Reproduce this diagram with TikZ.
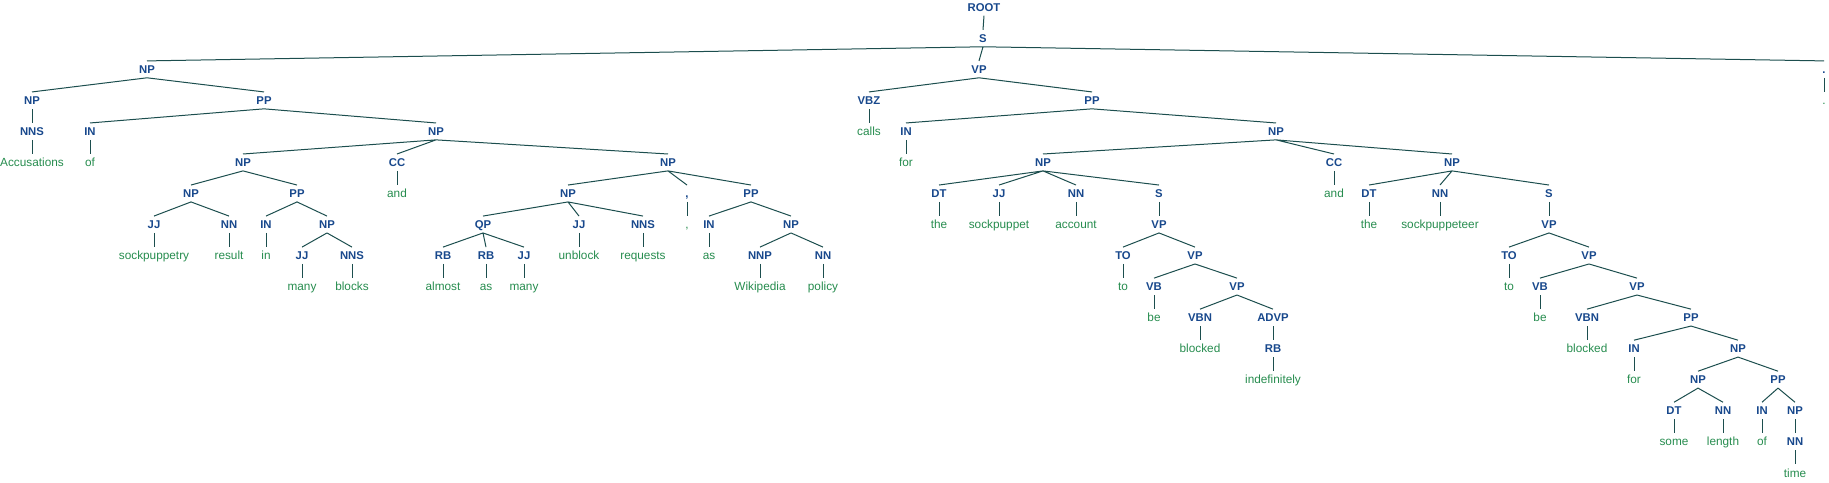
\documentclass[tikz,border=0pt]{standalone}
\usepackage{fontspec}
\newfontfamily\treefont{Liberation Sans}
\usepackage{tikz}

\definecolor{catblue}{RGB}{24,72,140}
\definecolor{wordgreen}{RGB}{38,140,78}
\definecolor{branchteal}{RGB}{28,78,78}

\begin{document}
\begin{tikzpicture}[x=1pt, y=-31.03pt,
		cat/.style={font=\treefont\bfseries\fontsize{11.3}{13}\selectfont, text=catblue, inner xsep=1pt, inner ysep=4pt, text height=8.5pt, text depth=0pt},
		word/.style={font=\treefont\fontsize{11.8}{14}\selectfont, text=wordgreen, inner xsep=1pt, inner ysep=4pt, text height=8.5pt, text depth=0pt},
		branch/.style={draw=branchteal, line width=1pt}]
			\useasboundingbox (0,-0.2353) rectangle (1829,15.2985);
			
			\node[cat] (root) at (984,0) {ROOT};
			\node[cat] (s) at (983,1) {S};
			
			% subject NP
			\node[cat] (np1) at (147,2) {NP};
			\node[cat] (np2) at (32,3) {NP};
			\node[cat] (pp1) at (264,3) {PP};
			\node[cat] (nns1) at (32,4) {NNS};
			\node[word] (nns1w) at (32,5) {Accusations};
			\node[cat] (in1) at (90,4) {IN};
			\node[word] (in1w) at (90,5) {of};
			\node[cat] (np3) at (436,4) {NP};
			\node[cat] (np4) at (243,5) {NP};
			\node[cat] (cc1) at (397,5) {CC};
			\node[word] (cc1w) at (397,6) {and};
			\node[cat] (np7) at (668,5) {NP};
			\node[cat] (np5) at (191,6) {NP};
			\node[cat] (pp2) at (297,6) {PP};
			\node[cat] (jj1) at (154,7) {JJ};
			\node[word] (jj1w) at (154,8) {sockpuppetry};
			\node[cat] (nn1) at (229,7) {NN};
			\node[word] (nn1w) at (229,8) {result};
			\node[cat] (in2) at (266,7) {IN};
			\node[word] (in2w) at (266,8) {in};
			\node[cat] (np6) at (327,7) {NP};
			\node[cat] (jj2) at (302,8) {JJ};
			\node[word] (jj2w) at (302,9) {many};
			\node[cat] (nns2) at (352,8) {NNS};
			\node[word] (nns2w) at (352,9) {blocks};
			\node[cat] (np8) at (568,6) {NP};
			\node[cat] (comma) at (687,6) {,};
			\node[word] (commaw) at (687,7) {,};
			\node[cat] (pp3) at (751,6) {PP};
			\node[cat] (qp1) at (483,7) {QP};
			\node[cat] (rb1) at (443,8) {RB};
			\node[word] (rb1w) at (443,9) {almost};
			\node[cat] (rb2) at (486,8) {RB};
			\node[word] (rb2w) at (486,9) {as};
			\node[cat] (jj3) at (524,8) {JJ};
			\node[word] (jj3w) at (524,9) {many};
			\node[cat] (jj4) at (579,7) {JJ};
			\node[word] (jj4w) at (579,8) {unblock};
			\node[cat] (nns3) at (643,7) {NNS};
			\node[word] (nns3w) at (643,8) {requests};
			\node[cat] (in3) at (709,7) {IN};
			\node[word] (in3w) at (709,8) {as};
			\node[cat] (np9) at (791,7) {NP};
			\node[cat] (nnp1) at (760,8) {NNP};
			\node[word] (nnp1w) at (760,9) {Wikipedia};
			\node[cat] (nn2) at (823,8) {NN};
			\node[word] (nn2w) at (823,9) {policy};
			
			% verb phrase
			\node[cat] (vp1) at (979,2) {VP};
			\node[cat] (vbz1) at (869,3) {VBZ};
			\node[word] (vbz1w) at (869,4) {calls};
			\node[cat] (pp4) at (1092,3) {PP};
			\node[cat] (in4) at (906,4) {IN};
			\node[word] (in4w) at (906,5) {for};
			\node[cat] (np10) at (1276,4) {NP};
			\node[cat] (np11) at (1043,5) {NP};
			\node[cat] (dt1) at (939,6) {DT};
			\node[word] (dt1w) at (939,7) {the};
			\node[cat] (jj5) at (999,6) {JJ};
			\node[word] (jj5w) at (999,7) {sockpuppet};
			\node[cat] (nn3) at (1076,6) {NN};
			\node[word] (nn3w) at (1076,7) {account};
			\node[cat] (s2) at (1159,6) {S};
			\node[cat] (vp2) at (1159,7) {VP};
			\node[cat] (to1) at (1123,8) {TO};
			\node[word] (to1w) at (1123,9) {to};
			\node[cat] (vp3) at (1195,8) {VP};
			\node[cat] (vb1) at (1154,9) {VB};
			\node[word] (vb1w) at (1154,10) {be};
			\node[cat] (vp4) at (1237,9) {VP};
			\node[cat] (vbn1) at (1200,10) {VBN};
			\node[word] (vbn1w) at (1200,11) {blocked};
			\node[cat] (advp1) at (1273,10) {ADVP};
			\node[cat] (rb3) at (1273,11) {RB};
			\node[word] (rb3w) at (1273,12) {indefinitely};
			\node[cat] (cc2) at (1334,5) {CC};
			\node[word] (cc2w) at (1334,6) {and};
			\node[cat] (np12) at (1452,5) {NP};
			\node[cat] (dt2) at (1369,6) {DT};
			\node[word] (dt2w) at (1369,7) {the};
			\node[cat] (nn4) at (1440,6) {NN};
			\node[word] (nn4w) at (1440,7) {sockpuppeteer};
			\node[cat] (s3) at (1549,6) {S};
			\node[cat] (vp5) at (1549,7) {VP};
			\node[cat] (to2) at (1509,8) {TO};
			\node[word] (to2w) at (1509,9) {to};
			\node[cat] (vp6) at (1589,8) {VP};
			\node[cat] (vb2) at (1540,9) {VB};
			\node[word] (vb2w) at (1540,10) {be};
			\node[cat] (vp7) at (1637,9) {VP};
			\node[cat] (vbn2) at (1587,10) {VBN};
			\node[word] (vbn2w) at (1587,11) {blocked};
			\node[cat] (pp5) at (1691,10) {PP};
			\node[cat] (in5) at (1634,11) {IN};
			\node[word] (in5w) at (1634,12) {for};
			\node[cat] (np13) at (1738,11) {NP};
			\node[cat] (np14) at (1698,12) {NP};
			\node[cat] (dt3) at (1674,13) {DT};
			\node[word] (dt3w) at (1674,14) {some};
			\node[cat] (nn5) at (1723,13) {NN};
			\node[word] (nn5w) at (1723,14) {length};
			\node[cat] (pp6) at (1778,12) {PP};
			\node[cat] (in6) at (1762,13) {IN};
			\node[word] (in6w) at (1762,14) {of};
			\node[cat] (np15) at (1795,13) {NP};
			\node[cat] (nn6) at (1795,14) {NN};
			\node[word] (nn6w) at (1795,15) {time};
			
			\node[cat] (period) at (1824,2) {.};
			\node[word] (periodw) at (1824,3) {.};
			
			% branches
			\draw[branch] (root.south) -- (s.north);
			\draw[branch] (s.south) -- (np1.north) (s.south) -- (vp1.north) (s.south) -- (period.north);
			\draw[branch] (period.south) -- (periodw.north);
			
			\draw[branch] (np1.south) -- (np2.north) (np1.south) -- (pp1.north);
			\draw[branch] (np2.south) -- (nns1.north);
			\draw[branch] (nns1.south) -- (nns1w.north);
			\draw[branch] (pp1.south) -- (in1.north) (pp1.south) -- (np3.north);
			\draw[branch] (in1.south) -- (in1w.north);
			\draw[branch] (np3.south) -- (np4.north) (np3.south) -- (cc1.north) (np3.south) -- (np7.north);
			\draw[branch] (cc1.south) -- (cc1w.north);
			\draw[branch] (np4.south) -- (np5.north) (np4.south) -- (pp2.north);
			\draw[branch] (np5.south) -- (jj1.north) (np5.south) -- (nn1.north);
			\draw[branch] (jj1.south) -- (jj1w.north);
			\draw[branch] (nn1.south) -- (nn1w.north);
			\draw[branch] (pp2.south) -- (in2.north) (pp2.south) -- (np6.north);
			\draw[branch] (in2.south) -- (in2w.north);
			\draw[branch] (np6.south) -- (jj2.north) (np6.south) -- (nns2.north);
			\draw[branch] (jj2.south) -- (jj2w.north);
			\draw[branch] (nns2.south) -- (nns2w.north);
			\draw[branch] (np7.south) -- (np8.north) (np7.south) -- (comma.north) (np7.south) -- (pp3.north);
			\draw[branch] (comma.south) -- (commaw.north);
			\draw[branch] (np8.south) -- (qp1.north) (np8.south) -- (jj4.north) (np8.south) -- (nns3.north);
			\draw[branch] (qp1.south) -- (rb1.north) (qp1.south) -- (rb2.north) (qp1.south) -- (jj3.north);
			\draw[branch] (rb1.south) -- (rb1w.north);
			\draw[branch] (rb2.south) -- (rb2w.north);
			\draw[branch] (jj3.south) -- (jj3w.north);
			\draw[branch] (jj4.south) -- (jj4w.north);
			\draw[branch] (nns3.south) -- (nns3w.north);
			\draw[branch] (pp3.south) -- (in3.north) (pp3.south) -- (np9.north);
			\draw[branch] (in3.south) -- (in3w.north);
			\draw[branch] (np9.south) -- (nnp1.north) (np9.south) -- (nn2.north);
			\draw[branch] (nnp1.south) -- (nnp1w.north);
			\draw[branch] (nn2.south) -- (nn2w.north);
			
			\draw[branch] (vp1.south) -- (vbz1.north) (vp1.south) -- (pp4.north);
			\draw[branch] (vbz1.south) -- (vbz1w.north);
			\draw[branch] (pp4.south) -- (in4.north) (pp4.south) -- (np10.north);
			\draw[branch] (in4.south) -- (in4w.north);
			\draw[branch] (np10.south) -- (np11.north) (np10.south) -- (cc2.north) (np10.south) -- (np12.north);
			\draw[branch] (np11.south) -- (dt1.north) (np11.south) -- (jj5.north) (np11.south) -- (nn3.north) (np11.south) -- (s2.north);
			\draw[branch] (dt1.south) -- (dt1w.north);
			\draw[branch] (jj5.south) -- (jj5w.north);
			\draw[branch] (nn3.south) -- (nn3w.north);
			\draw[branch] (s2.south) -- (vp2.north);
			\draw[branch] (vp2.south) -- (to1.north) (vp2.south) -- (vp3.north);
			\draw[branch] (to1.south) -- (to1w.north);
			\draw[branch] (vp3.south) -- (vb1.north) (vp3.south) -- (vp4.north);
			\draw[branch] (vb1.south) -- (vb1w.north);
			\draw[branch] (vp4.south) -- (vbn1.north) (vp4.south) -- (advp1.north);
			\draw[branch] (vbn1.south) -- (vbn1w.north);
			\draw[branch] (advp1.south) -- (rb3.north);
			\draw[branch] (rb3.south) -- (rb3w.north);
			\draw[branch] (cc2.south) -- (cc2w.north);
			\draw[branch] (np12.south) -- (dt2.north) (np12.south) -- (nn4.north) (np12.south) -- (s3.north);
			\draw[branch] (dt2.south) -- (dt2w.north);
			\draw[branch] (nn4.south) -- (nn4w.north);
			\draw[branch] (s3.south) -- (vp5.north);
			\draw[branch] (vp5.south) -- (to2.north) (vp5.south) -- (vp6.north);
			\draw[branch] (to2.south) -- (to2w.north);
			\draw[branch] (vp6.south) -- (vb2.north) (vp6.south) -- (vp7.north);
			\draw[branch] (vb2.south) -- (vb2w.north);
			\draw[branch] (vp7.south) -- (vbn2.north) (vp7.south) -- (pp5.north);
			\draw[branch] (vbn2.south) -- (vbn2w.north);
			\draw[branch] (pp5.south) -- (in5.north) (pp5.south) -- (np13.north);
			\draw[branch] (in5.south) -- (in5w.north);
			\draw[branch] (np13.south) -- (np14.north) (np13.south) -- (pp6.north);
			\draw[branch] (np14.south) -- (dt3.north) (np14.south) -- (nn5.north);
			\draw[branch] (dt3.south) -- (dt3w.north);
			\draw[branch] (nn5.south) -- (nn5w.north);
			\draw[branch] (pp6.south) -- (in6.north) (pp6.south) -- (np15.north);
			\draw[branch] (in6.south) -- (in6w.north);
			\draw[branch] (np15.south) -- (nn6.north);
			\draw[branch] (nn6.south) -- (nn6w.north);
			
		\end{tikzpicture}
\end{document}
